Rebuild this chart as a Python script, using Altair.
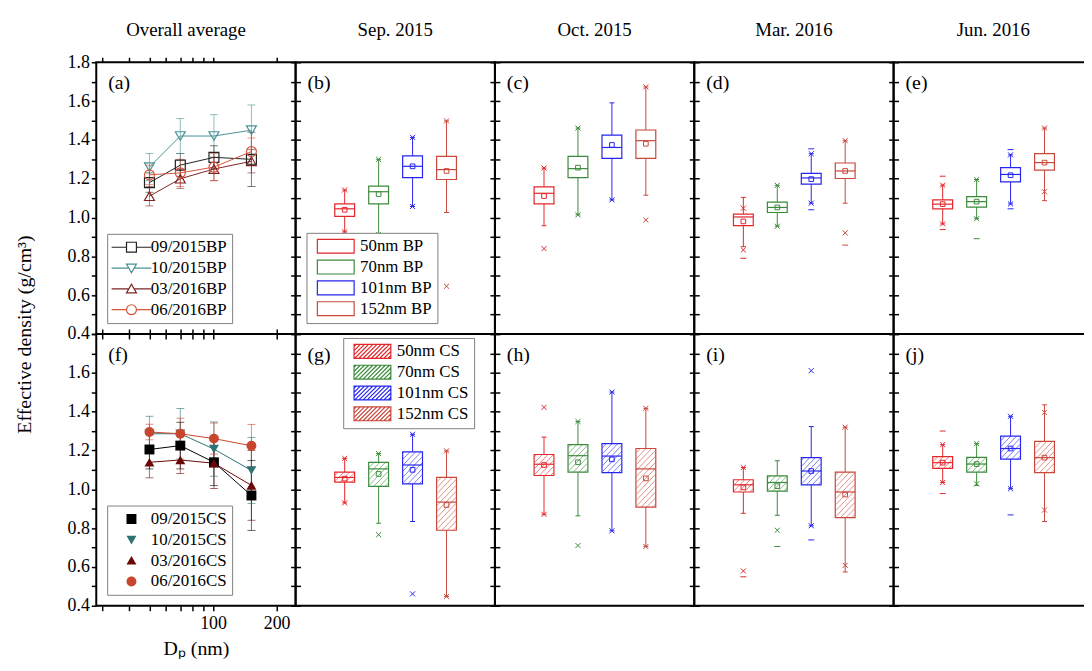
import altair as alt
import pandas as pd

FONT = "Liberation Serif"
W, H = 201, 274
XMIN, XMAX = -1.3, 4.28
YDOM = [0.4, 1.8]
BOX_PX = 20

COL_TITLES = ["Overall average", "Sep. 2015", "Oct. 2015", "Mar. 2016", "Jun. 2016"]

# ---------------- overall-average panels (a) and (f) ----------------
D_NM = [50, 70, 101, 152]
BP_SERIES = ["09/2015BP", "10/2015BP", "03/2016BP", "06/2016BP"]
CS_SERIES = ["09/2015CS", "10/2015CS", "03/2016CS", "06/2016CS"]
BP_COLORS = ["#222222", "#4a9296", "#7d2424", "#d9543c"]
CS_COLORS = ["#000000", "#2f7272", "#6a0808", "#c8462e"]

bp_0915 = [1.18, 1.27, 1.31, 1.30]
bp_0915_err = [0.05, 0.06, 0.06, 0.14]
bp_1015 = [1.26, 1.42, 1.42, 1.45]
bp_1015_err = [0.07, 0.09, 0.11, 0.13]
bp_0316 = [1.11, 1.20, 1.25, 1.29]
bp_0316_err = [0.05, 0.05, 0.06, 0.06]
bp_0616 = [1.22, 1.23, 1.26, 1.34]
bp_0616_err = [0.05, 0.07, 0.07, 0.07]

cs_0915 = [1.205, 1.225, 1.139, 0.968]
cs_0915_err = [0.10, 0.12, 0.12, 0.18]
cs_1015 = [1.286, 1.286, 1.207, 1.097]
cs_1015_err = [0.09, 0.13, 0.14, 0.17]
cs_0316 = [1.139, 1.151, 1.134, 1.020]
cs_0316_err = [0.08, 0.07, 0.13, 0.18]
cs_0616 = [1.295, 1.286, 1.261, 1.224]
cs_0616_err = [0.04, 0.08, 0.08, 0.11]

# ---------------- box panels ----------------
SIZES = ["50nm", "70nm", "101nm", "152nm"]
BOX_COLORS = ["#e3262b", "#3b8a3b", "#2525f0", "#c9473b"]

SEP_BP = {"lo": [0.926, 0.913, 1.057, 1.026], "q1": [1.006, 1.070, 1.206, 1.196],
          "med": [1.045, 1.133, 1.264, 1.247], "q3": [1.070, 1.162, 1.318, 1.315],
          "hi": [1.142, 1.300, 1.413, 1.498], "mean": [1.040, 1.121, 1.264, 1.240]}
SEP_BP_CROSS = [(0, 1.142), (0, 0.926), (1, 1.300), (1, 0.913), (2, 1.413), (2, 1.057), (3, 1.498), (3, 0.646)]
SEP_BP_DASH = []

OCT_BP = {"lo": [0.958, 1.014, 1.091, 1.115], "q1": [1.070, 1.206, 1.305, 1.305],
          "med": [1.125, 1.252, 1.361, 1.396], "q3": [1.158, 1.315, 1.425, 1.451],
          "hi": [1.255, 1.461, 1.591, 1.673], "mean": [1.111, 1.257, 1.374, 1.380]}
OCT_BP_CROSS = [(0, 1.255), (0, 0.840), (1, 1.461), (1, 1.014), (2, 1.091), (3, 1.673), (3, 0.987)]
OCT_BP_DASH = []

MAR_BP = {"lo": [0.850, 0.955, 1.074, 1.074], "q1": [0.958, 1.026, 1.172, 1.201],
          "med": [1.003, 1.052, 1.204, 1.240], "q3": [1.018, 1.079, 1.228, 1.281],
          "hi": [1.104, 1.166, 1.329, 1.396], "mean": [0.980, 1.052, 1.198, 1.240]}
MAR_BP_CROSS = [(0, 1.048), (0, 0.833), (1, 1.166), (1, 0.955), (2, 1.329), (2, 1.074), (3, 1.396), (3, 0.921)]
MAR_BP_DASH = [(0, 0.790), (2, 1.354), (2, 1.040), (3, 0.858)]

JUN_BP = {"lo": [0.967, 0.994, 1.070, 1.087], "q1": [1.045, 1.054, 1.184, 1.244],
          "med": [1.069, 1.082, 1.222, 1.283], "q3": [1.091, 1.108, 1.257, 1.329],
          "hi": [1.167, 1.196, 1.323, 1.461], "mean": [1.069, 1.082, 1.218, 1.283]}
JUN_BP_CROSS = [(0, 1.167), (0, 0.967), (1, 1.196), (1, 0.994), (2, 1.323), (2, 1.070), (3, 1.461), (3, 1.133)]
JUN_BP_DASH = [(0, 1.213), (0, 0.938), (1, 0.891), (2, 1.350), (2, 1.045)]

SEP_CS = {"lo": [0.930, 0.825, 0.834, 0.447], "q1": [1.037, 1.015, 1.028, 0.789],
          "med": [1.061, 1.105, 1.125, 0.934], "q3": [1.088, 1.139, 1.193, 1.061],
          "hi": [1.159, 1.184, 1.283, 1.198], "mean": [1.055, 1.079, 1.100, 0.919]}
SEP_CS_CROSS = [(0, 1.159), (0, 0.930), (1, 1.184), (1, 0.766), (2, 1.283), (2, 0.461), (3, 1.198), (3, 0.447)]
SEP_CS_DASH = []

OCT_CS = {"lo": [0.871, 0.863, 0.786, 0.705], "q1": [1.071, 1.088, 1.086, 0.908],
          "med": [1.129, 1.173, 1.171, 1.105], "q3": [1.179, 1.230, 1.235, 1.210],
          "hi": [1.269, 1.349, 1.501, 1.417], "mean": [1.125, 1.139, 1.154, 1.056]}
OCT_CS_CROSS = [(0, 1.422), (0, 0.871), (1, 1.349), (1, 0.710), (2, 1.501), (2, 0.786), (3, 1.417), (3, 0.705)]
OCT_CS_DASH = []

MAR_CS = {"lo": [0.876, 0.866, 0.812, 0.574], "q1": [0.986, 0.990, 1.023, 0.854],
          "med": [1.023, 1.035, 1.094, 0.986], "q3": [1.049, 1.069, 1.163, 1.088],
          "hi": [1.112, 1.147, 1.323, 1.320], "mean": [1.010, 1.016, 1.094, 0.973]}
MAR_CS_CROSS = [(0, 1.112), (0, 0.579), (1, 0.789), (2, 1.611), (2, 0.812), (3, 1.320), (3, 0.608)]
MAR_CS_DASH = [(0, 0.549), (1, 0.705), (2, 0.739)]

JUN_CS = {"lo": [1.035, 1.020, 1.003, 0.834], "q1": [1.108, 1.088, 1.155, 1.086],
          "med": [1.137, 1.130, 1.210, 1.163], "q3": [1.168, 1.164, 1.274, 1.247],
          "hi": [1.230, 1.235, 1.376, 1.435], "mean": [1.137, 1.130, 1.210, 1.163]}
JUN_CS_CROSS = [(0, 1.230), (0, 1.035), (1, 1.235), (1, 1.028), (2, 1.376), (2, 1.003), (3, 1.396), (3, 0.893)]
JUN_CS_DASH = [(0, 1.300), (0, 0.978), (2, 0.868)]

TICKS_Y = [round(0.4 + 0.1 * i, 1) for i in range(15)]
TICKS_X = [30, 40, 50, 60, 70, 80, 90, 100, 200]

PX_X = W / (XMAX - XMIN)
PX_Y = H / (YDOM[1] - YDOM[0])

X_PATH = "M-1,-1L1,1M-1,1L1,-1"
RECT_PATH = "M-2.65,-1H2.65V1H-2.65Z"


def hatch_symbol(hw=2.65, hh=1.0, step=0.6):
    parts = [f"M{-hw},{-hh}H{hw}V{hh}H{-hw}Z"]
    c = -hw - 2 * hh + step / 2
    while c < hw:
        x0 = max(c, -hw)
        x1 = min(c + 2 * hh, hw)
        if x1 > x0:
            parts.append(f"M{x0:.2f},{hh - (x0 - c):.2f}L{x1:.2f},{hh - (x1 - c):.2f}")
        c += step
    return "".join(parts)


HATCH_PATH = hatch_symbol()

LEG_SHAPES = [
    "M-4,0H-1M1,0H4M-1,-1H1V1H-1Z",
    "M-4,0H-0.55M0.55,0H4M-1,-0.8H1L0,0.95Z",
    "M-4,0H-0.55M0.55,0H4M-1,0.8H1L0,-0.95Z",
    "M-4,0H-1M1,0H4M1,0A1,1,0,1,1,-1,0A1,1,0,1,1,1,0Z",
]
STD_SHAPES = ["square", "triangle-down", "triangle-up", "circle"]

ys = alt.Scale(domain=YDOM, nice=False, zero=False)


def y_axis(orient, labels=False, row=0, title=None, **extra):
    kw = dict(orient=orient, values=TICKS_Y, labels=labels, ticks=True, domain=False,
              grid=False, tickSize=5, title=title)
    if labels:
        cond = "datum.value < 1.75 && " if row == 1 else ""
        kw["labelExpr"] = f"({cond}round(datum.value*10) % 2 == 0) ? format(datum.value, '.1f') : ''"
        kw["labelPadding"] = 2
    kw.update(extra)
    return alt.Axis(**kw)


def x_axis(orient, labels=False, title=None):
    kw = dict(orient=orient, values=TICKS_X, labels=labels, ticks=True, domain=False,
              grid=False, tickSize=5, title=title)
    if labels:
        kw["labelExpr"] = "(datum.value == 100 || datum.value == 200) ? format(datum.value, 'd') : ''"
        kw["labelPadding"] = 4
        kw["titlePadding"] = 6
    return alt.Axis(**kw)


def label_layer(txt):
    return alt.Chart(pd.DataFrame({"t": [txt]})).mark_text(
        align="left", baseline="middle", font=FONT, fontSize=20, color="black"
    ).encode(x=alt.value(12), y=alt.value(21), text="t:N")


def title_params(text, offset, dx=0):
    return alt.TitleParams(text, font=FONT, fontSize=19, fontWeight="normal", color="black",
                           offset=offset, frame="group", dx=dx)


def hatch_rows(stats, names, step=6.0):
    half = BOX_PX / 2
    rows = []
    for i, (q1, q3) in enumerate(zip(stats["q1"], stats["q3"])):
        hpx = (q3 - q1) * PX_Y
        c = -half + step / 2
        while c < hpx + half:
            u0 = max(-half, -c)
            u1 = min(half, hpx - c)
            if u1 > u0:
                rows.append({"size": names[i], "x": i + u0 / PX_X, "x2": i + u1 / PX_X,
                             "y": q1 + (u0 + c) / PX_Y, "y2": q1 + (u1 + c) / PX_Y})
            c += step
    return pd.DataFrame(rows)


def line_panel(series, colors, means, errs, filled, label, row, title=None):
    rows = []
    for name, m, e in zip(series, means, errs):
        for d, v, err in zip(D_NM, m, e):
            rows.append({"series": name, "d": d, "v": v, "lo": v - err, "hi": v + err})
    df = pd.DataFrame(rows)
    xs = alt.Scale(type="log", domain=[28, 246], nice=False)
    cs = alt.Scale(domain=series, range=colors)
    base = alt.Chart(df)
    col = alt.Color("series:N", scale=cs, legend=None)
    leg = alt.Legend(orient="bottom-left", offset=11, title=None, labelFont=FONT, labelFontSize=17,
                     labelColor="black", symbolSize=100, symbolStrokeWidth=1.2,
                     strokeColor="#7f7f7f", fillColor="white", padding=5, rowPadding=3,
                     symbolOffset=11, labelOffset=11)
    if row == 0:
        yl = y_axis("left", labels=True, row=row, title="Effective density (g/cm³)",
                    titleY=H, titlePadding=33, titleFontSize=20)
        xb = x_axis("bottom")
    else:
        yl = y_axis("left", labels=True, row=row)
        xb = x_axis("bottom", labels=True, title="Dₚ (nm)")
    err = base.mark_rule(strokeWidth=1, opacity=0.6).encode(
        x=alt.X("d:Q", scale=xs, axis=None),
        y=alt.Y("lo:Q", scale=ys, axis=yl), y2="hi:Q", color=col)
    caps = base.transform_fold(["lo", "hi"], as_=["k", "e"]).mark_tick(
        orient="horizontal", size=8, thickness=1, opacity=0.6).encode(
        x=alt.X("d:Q", scale=xs, axis=None), y=alt.Y("e:Q", scale=ys, axis=None), color=col)
    line = base.mark_line(strokeWidth=1).encode(
        x=alt.X("d:Q", scale=xs, axis=xb), y=alt.Y("v:Q", scale=ys, axis=None), color=col)
    pts = base.mark_point(size=100, filled=filled, strokeWidth=1.2, opacity=1).encode(
        x=alt.X("d:Q", scale=xs, axis=x_axis("top")),
        y=alt.Y("v:Q", scale=ys, axis=y_axis("right")),
        color=col,
        shape=alt.Shape("series:N", scale=alt.Scale(domain=series, range=STD_SHAPES), legend=None))
    legl = base.transform_filter("false").mark_point(filled=filled, strokeWidth=1.2, opacity=1).encode(
        x=alt.X("d:Q", scale=xs, axis=None), y=alt.Y("v:Q", scale=ys, axis=None),
        color=alt.Color("series:N", scale=cs, legend=leg),
        shape=alt.Shape("series:N", scale=alt.Scale(domain=series, range=LEG_SHAPES), legend=leg))
    ch = alt.layer(err, caps, line, pts, legl, label_layer(label)).resolve_scale(
        color="independent", shape="independent").properties(width=W, height=H)
    if title:
        ch = ch.properties(title=title_params(title, 13, dx=-10))
    return ch


def box_panel(stats, crosses, dashes, kind, label, title=None, legend=None):
    names = [f"{s} {kind}" for s in SIZES]
    df = pd.DataFrame({"pos": list(range(4)), "size": names, **stats})
    cscale = alt.Scale(domain=names, range=BOX_COLORS)
    xs = alt.Scale(domain=[XMIN, XMAX], nice=False, zero=False)
    X = alt.X("pos:Q", scale=xs, axis=None)
    col = alt.Color("size:N", scale=cscale, legend=None)
    base = alt.Chart(df)
    layers = [
        base.mark_rule(strokeWidth=1).encode(
            x=X, y=alt.Y("lo:Q", scale=ys, axis=y_axis("left")), y2="hi:Q", color=col),
        base.mark_bar(size=BOX_PX, fill="white", strokeWidth=1.2).encode(
            x=X, y=alt.Y("q1:Q", scale=ys, axis=None), y2="q3:Q",
            stroke=alt.Stroke("size:N", scale=cscale, legend=legend)),
    ]
    if kind == "CS":
        hd = hatch_rows(stats, names)
        layers.append(alt.Chart(hd).mark_rule(strokeWidth=0.8, opacity=0.75).encode(
            x=alt.X("x:Q", scale=xs, axis=None), x2="x2:Q",
            y=alt.Y("y:Q", scale=ys, axis=None), y2="y2:Q", color=col))
    layers.append(base.mark_tick(orient="horizontal", size=BOX_PX, thickness=1.2, opacity=1).encode(
        x=X, y=alt.Y("med:Q", scale=ys, axis=y_axis("right")), color=col))
    layers.append(base.mark_point(shape="square", size=22, filled=False, strokeWidth=1, opacity=1).encode(
        x=X, y=alt.Y("mean:Q", scale=ys, axis=None), color=col))
    layers.append(base.transform_fold(["lo", "hi"], as_=["k", "v"]).mark_tick(
        orient="horizontal", size=5, thickness=1, opacity=1).encode(
        x=X, y=alt.Y("v:Q", scale=ys, axis=None), color=col))
    cdf = pd.DataFrame({"pos": [p for p, _ in crosses], "v": [v for _, v in crosses],
                        "size": [names[p] for p, _ in crosses]})
    layers.append(alt.Chart(cdf).mark_point(shape=X_PATH, size=26, filled=False, strokeWidth=1, opacity=1).encode(
        x=X, y=alt.Y("v:Q", scale=ys, axis=None), color=col))
    if dashes:
        ddf = pd.DataFrame({"pos": [p for p, _ in dashes], "v": [v for _, v in dashes],
                            "size": [names[p] for p, _ in dashes]})
        layers.append(alt.Chart(ddf).mark_tick(orient="horizontal", size=6, thickness=1, opacity=1).encode(
            x=X, y=alt.Y("v:Q", scale=ys, axis=None), color=col))
    layers.append(label_layer(label))
    ch = alt.layer(*layers).resolve_scale(color="independent", stroke="independent").properties(width=W, height=H)
    if title:
        ch = ch.properties(title=title_params(title, 22))
    return ch


box_leg_common = dict(title=None, labelFont=FONT, labelFontSize=17, labelColor="black",
                      symbolSize=196, symbolFillColor="white", symbolStrokeWidth=1.2,
                      strokeColor="#7f7f7f", fillColor="white", padding=5, rowPadding=2,
                      symbolOffset=16, labelOffset=16)
leg_bp = alt.Legend(orient="bottom-left", offset=11, symbolType=RECT_PATH, **box_leg_common)
leg_cs = alt.Legend(orient="none", legendX=48, legendY=4, symbolType=HATCH_PATH, **box_leg_common)

pa = line_panel(BP_SERIES, BP_COLORS, [bp_0915, bp_1015, bp_0316, bp_0616],
                [bp_0915_err, bp_1015_err, bp_0316_err, bp_0616_err], False, "(a)", 0, COL_TITLES[0])
pf = line_panel(CS_SERIES, CS_COLORS, [cs_0915, cs_1015, cs_0316, cs_0616],
                [cs_0915_err, cs_1015_err, cs_0316_err, cs_0616_err], True, "(f)", 1)

pb = box_panel(SEP_BP, SEP_BP_CROSS, SEP_BP_DASH, "BP", "(b)", COL_TITLES[1], leg_bp)
pc = box_panel(OCT_BP, OCT_BP_CROSS, OCT_BP_DASH, "BP", "(c)", COL_TITLES[2])
pd_ = box_panel(MAR_BP, MAR_BP_CROSS, MAR_BP_DASH, "BP", "(d)", COL_TITLES[3])
pe = box_panel(JUN_BP, JUN_BP_CROSS, JUN_BP_DASH, "BP", "(e)", COL_TITLES[4])
pg = box_panel(SEP_CS, SEP_CS_CROSS, SEP_CS_DASH, "CS", "(g)", None, leg_cs)
ph = box_panel(OCT_CS, OCT_CS_CROSS, OCT_CS_DASH, "CS", "(h)")
pi = box_panel(MAR_CS, MAR_CS_CROSS, MAR_CS_DASH, "CS", "(i)")
pj = box_panel(JUN_CS, JUN_CS_CROSS, JUN_CS_DASH, "CS", "(j)")

chart = alt.concat(pa, pb, pc, pd_, pe, pf, pg, ph, pi, pj, columns=5, spacing=0, bounds="flush").resolve_scale(
    color="independent", stroke="independent", shape="independent"
).properties(
    padding={"left": 5, "top": 9, "right": -16, "bottom": -3}, background="white"
).configure_view(stroke="black", strokeWidth=2).configure_axis(
    domain=False, grid=False, tickColor="black", tickWidth=1.5, labelFont=FONT, labelFontSize=18,
    labelColor="black", titleFont=FONT, titleFontSize=20, titleFontWeight="normal", titleColor="black"
)

chart.save("out.html", embed_options={"renderer": "svg", "actions": False})
